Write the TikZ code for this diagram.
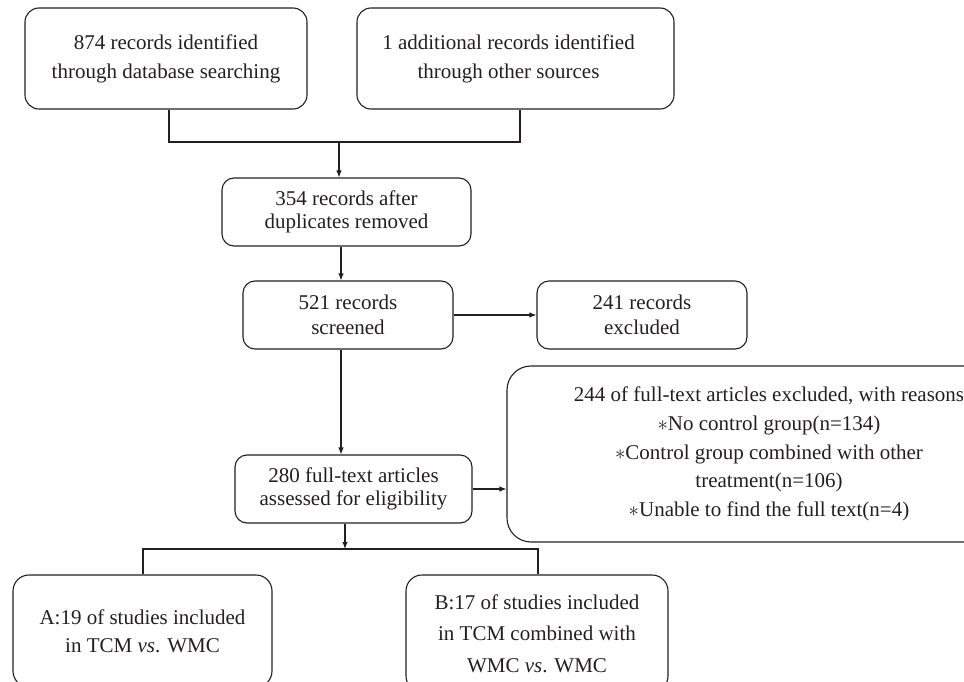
\documentclass[tikz,border=0pt]{standalone}
\usepackage{fontspec}
\setmainfont{Liberation Serif}
\usetikzlibrary{arrows.meta}
\definecolor{ink}{HTML}{231F20}
\begin{document}
\begin{tikzpicture}[x=1pt,y=-1pt,
  box/.style={draw=ink, line width=1.1pt, rounded corners=14pt, align=center,
    text=ink, inner sep=0pt, anchor=center},
  ln/.style={draw=ink, line width=1.1pt},
  arr/.style={ln, -{Latex[length=7pt,width=5.5pt]}}]
\useasboundingbox (0,0) rectangle (964,682);
\clip (0,0) rectangle (964,682);

\node[box, minimum width=282pt, minimum height=101pt,
  font=\fontsize{21}{29}\selectfont] (b1) at (166,58.5)
  {874 records identified\\through database searching};
\node[box, minimum width=317pt, minimum height=101pt,
  font=\fontsize{21}{29}\selectfont] (b2) at (515.5,58.5)
  {\hspace*{-14pt}1 additional records identified\\\hspace*{-14pt}through other sources};
\node[box, rounded corners=12pt, minimum width=249pt, minimum height=68pt,
  font=\fontsize{21}{23}\selectfont] (b3) at (346.5,212)
  {354 records after\\duplicates removed};
\node[box, rounded corners=12pt, minimum width=210pt, minimum height=68pt,
  font=\fontsize{21}{25}\selectfont] (b4) at (348,315)
  {521 records\\screened};
\node[box, rounded corners=12pt, minimum width=210pt, minimum height=68pt,
  font=\fontsize{21}{25}\selectfont] (b6) at (642,315)
  {241 records\\excluded};
\node[box, rounded corners=12pt, minimum width=237pt, minimum height=68pt,
  font=\fontsize{21}{23}\selectfont] (b5) at (353.5,489)
  {280 full-text articles\\assessed for eligibility};
\node[box, rounded corners=24pt, minimum width=524pt, minimum height=176pt,
  font=\fontsize{21}{28.7}\selectfont] (b7) at (769,454)
  {244 of full-text articles excluded, with reasons\\
   $\ast$No control group(n=134)\\
   $\ast$Control group combined with other\\
   treatment(n=106)\\
   $\ast$Unable to find the full text(n=4)};
\node[box, rounded corners=16pt, minimum width=259pt, minimum height=112pt,
  font=\fontsize{21}{28}\selectfont] (bA) at (142.5,631)
  {A:19 of studies included\\in TCM \textit{vs}. WMC};
\node[box, rounded corners=16pt, minimum width=262pt, minimum height=117pt,
  font=\fontsize{21}{31.5}\selectfont] (bB) at (537,633.5)
  {B:17 of studies included\\in TCM combined with\\WMC \textit{vs}. WMC};

% junction coordinates
\coordinate (j1) at (339,142);
\coordinate (c1) at (341,0);
\coordinate (j2) at (345,549);
\coordinate (jl) at (143,549);
\coordinate (jr) at (538,549);

\draw[ln] (b1.south -| 169,0) |- (j1) -| (b2.south -| 520,0);
\draw[arr] (j1) -- (b3.north -| j1);
\draw[arr] (b3.south -| c1) -- (b4.north -| c1);
\draw[arr] (b4.east) -- (b6.west);
\draw[arr] (b4.south -| c1) -- (b5.north -| c1);
\draw[arr] (b5.east) -- (b5.east -| b7.west);
\draw[arr] (b5.south -| j2) -- (j2);
\draw[ln] (bA.north -| jl) -- (jl) -- (jr) -- (bB.north -| jr);
\end{tikzpicture}
\end{document}
